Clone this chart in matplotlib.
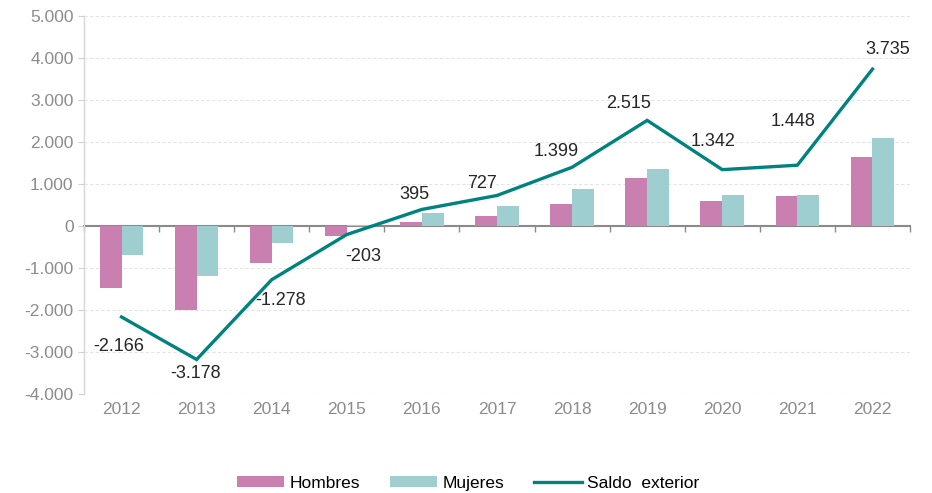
import matplotlib
matplotlib.use("Agg")
import matplotlib.pyplot as plt
import numpy as np

plt.rcParams['font.family'] = ['Liberation Sans', 'DejaVu Sans']

years = ["2012", "2013", "2014", "2015", "2016", "2017", "2018", "2019", "2020", "2021", "2022"]
hombres = [-1485, -1995, -875, -238, 90, 248, 518, 1155, 607, 708, 1633]
mujeres = [-681, -1183, -403, 35, 305, 479, 881, 1360, 735, 740, 2102]
saldo = [-2166, -3178, -1278, -203, 395, 727, 1399, 2515, 1342, 1448, 3735]
saldo_labels = ["-2.166", "-3.178", "-1.278", "-203", "395", "727", "1.399", "2.515", "1.342", "1.448", "3.735"]
yticks = [-4000, -3000, -2000, -1000, 0, 1000, 2000, 3000, 4000, 5000]
ytick_labels = ["-4.000", "-3.000", "-2.000", "-1.000", "0", "1.000", "2.000", "3.000", "4.000", "5.000"]

# label offsets (pixels) relative to each point of the line
label_offsets = [(-3, -30), (-1, -14), (9, -21), (16, -22), (-7, 15), (-15, 12),
                 (-16, 16), (-19, 17), (-9, 28), (-4, 44), (15, 20)]

c_h = "#C980B0"
c_m = "#9FCED1"
c_line = "#00827E"
c_tick = "#8C8C8C"

fig = plt.figure(figsize=(9.32, 4.93), dpi=100)
ax = fig.add_axes([0.0901, 0.2008, 0.8863, 0.7667])

x = np.arange(len(years))
w = 0.29
bh = ax.bar(x - w / 2, hombres, width=w, color=c_h, label="Hombres", zorder=2)
bm = ax.bar(x + w / 2, mujeres, width=w, color=c_m, label="Mujeres", zorder=2)
ln, = ax.plot(x, saldo, color=c_line, lw=2.4, label="Saldo  exterior", zorder=3,
              solid_joinstyle="miter")

for xi, v, lab, (dx, dy) in zip(x, saldo, saldo_labels, label_offsets):
    ax.annotate(lab, (xi, v), xytext=(dx, dy), textcoords="offset pixels",
                ha="center", va="center", fontsize=13, color="#262626", zorder=4)

ax.set_xlim(-0.5, len(years) - 0.5)
ax.set_ylim(-4000, 5000)
ax.set_yticks(yticks)
ax.set_yticklabels(ytick_labels)
# dashed gridlines at every tick except the zero axis
for yv in yticks:
    if yv != 0:
        ax.axhline(yv, color="#E4E4E4", lw=0.8, ls=(0, (3, 2)), zorder=0)
ax.tick_params(axis="y", colors="#D0D0D0", labelcolor=c_tick, labelsize=12.5,
               length=4, width=0.8)

# category labels along the bottom, no tick marks
ax.set_xticks(x)
ax.set_xticklabels(years)
ax.tick_params(axis="x", length=0, labelcolor=c_tick, labelsize=12.5, pad=6)

for s in ["top", "right", "bottom"]:
    ax.spines[s].set_visible(False)
ax.spines["left"].set_color("#D6D6D6")
ax.spines["left"].set_linewidth(1.0)

# zero axis with ticks between categories
zero_frac = (0 - (-4000)) / 9000
sec = ax.secondary_xaxis(zero_frac)
sec.set_xticks(np.arange(-0.5, len(years), 1.0))
sec.set_xticklabels([])
sec.tick_params(axis="x", direction="out", length=4, width=1.0, colors="#8A8A8A")
sec.spines["bottom"].set_color("#8A8A8A")
sec.spines["bottom"].set_linewidth(1.5)
sec.spines["top"].set_visible(False)

fig.legend([bh, bm, ln], ["Hombres", "Mujeres", "Saldo  exterior"],
           loc="center", bbox_to_anchor=(0.502, 0.02), ncol=3, frameon=False,
           fontsize=12.5, handlelength=2.75, handleheight=0.55,
           columnspacing=1.7, handletextpad=0.3)

fig.savefig("out.png", dpi=100)
